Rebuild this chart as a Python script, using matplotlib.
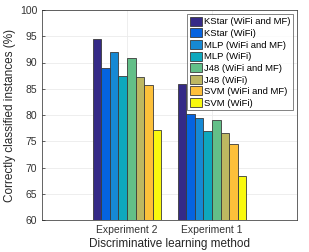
import matplotlib
matplotlib.use("Agg")
import matplotlib.pyplot as plt
import numpy as np

plt.rcParams['font.family'] = ['Liberation Sans', 'DejaVu Sans']

categories = ["Experiment 2", "Experiment 1"]
series_names = ["KStar (WiFi and MF)", "KStar (WiFi)", "MLP (WiFi and MF)", "MLP (WiFi)",
                "J48 (WiFi and MF)", "J48 (WiFi)", "SVM (WiFi and MF)", "SVM (WiFi)"]
values = [
    [94.5, 86.0],
    [88.9, 80.2],
    [92.0, 79.5],
    [87.4, 76.9],
    [90.8, 79.0],
    [87.2, 76.5],
    [85.8, 74.4],
    [77.1, 68.3],
]
colors = ["#352a87", "#0563e0", "#1689d4", "#0ea8bd", "#63bf88", "#beb761", "#fdc03a", "#f9f90e"]
yticks = [60, 65, 70, 75, 80, 85, 90, 95, 100]

fig = plt.figure(figsize=(3.09, 2.52), dpi=100)
ax = fig.add_axes([42/309, 1 - 220/252, 255/309, 210/252])

x = np.arange(1, len(categories) + 1)
n = len(series_names)
group_w = 0.81
bw = group_w / n
for i, (name, vals, c) in enumerate(zip(series_names, values, colors)):
    offs = -group_w/2 + bw*(i + 0.5)
    ax.bar(x + offs, vals, width=bw, color=c, edgecolor="#3a3a3a", linewidth=0.6, label=name, zorder=3)

ax.set_xlim(0, 3)
ax.set_ylim(60, 100)
ax.set_yticks(yticks)
ax.set_xticks(x)
ax.set_xticklabels(categories)
ax.tick_params(axis='both', direction='in', labelsize=7.5, length=2.5, colors="#262626",
               labelcolor="#333333", width=0.5)
ax.grid(True, color="#ebebeb", linewidth=0.6, zorder=0)
for s in ax.spines.values():
    s.set_color("#262626")
    s.set_linewidth(0.5)
ax.set_ylabel("Correctly classified instances (%)", fontsize=8.5, color="#262626", labelpad=3)
ax.set_xlabel("Discriminative learning method", fontsize=8.5, color="#262626", labelpad=2)

leg = ax.legend(loc="upper right", fontsize=6.8, frameon=True, fancybox=False, edgecolor="#262626",
                handlelength=1.3, handleheight=1.1, handletextpad=0.2, borderpad=0.25,
                labelspacing=0.2, borderaxespad=0.45)
leg.get_frame().set_linewidth(0.5)

fig.savefig("out.png", dpi=100)
